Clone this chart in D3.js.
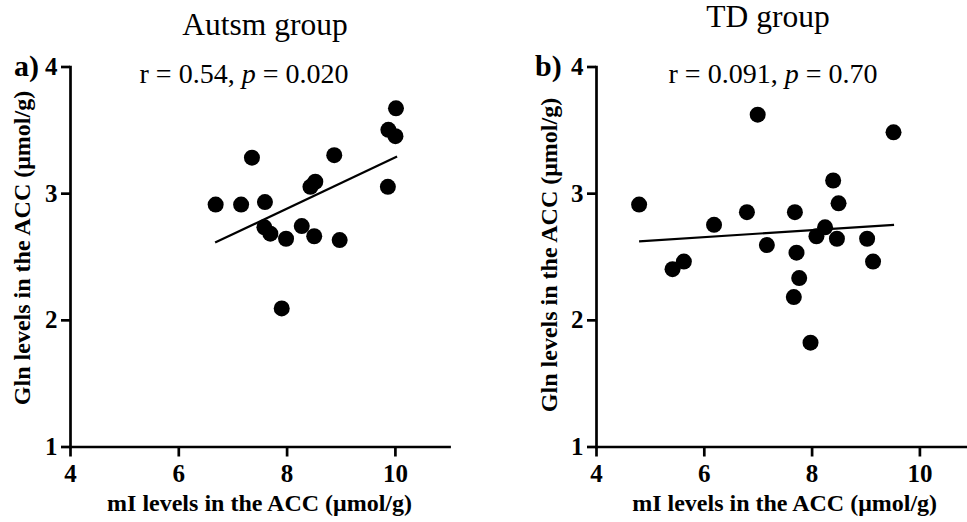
<!DOCTYPE html>
<html>
<head>
<meta charset="utf-8">
<script src="https://cdn.jsdelivr.net/npm/d3@7"></script>
<style>
  body { margin: 0; background: #fff; }
  svg text { font-family: "Liberation Serif", "Times New Roman", serif; fill: #000; }
</style>
</head>
<body>
<div id="chart"></div>
<script>
// Gln vs mI scatter, two groups

// ticks
var xTicks = [4, 6, 8, 10];
var yTicks = [1, 2, 3, 4];

// Autism group points (mI, Gln)
var autismX = [6.69, 7.16, 7.36, 7.60, 7.59, 7.70, 7.99, 7.91, 8.28, 8.44, 8.53, 8.51, 8.88, 8.98, 9.87, 9.88, 10.01, 10.02];
var autismY = [2.91, 2.91, 3.28, 2.93, 2.73, 2.68, 2.64, 2.09, 2.74, 3.05, 3.09, 2.66, 3.30, 2.63, 3.05, 3.50, 3.45, 3.67];
var autismFitX = [6.68, 10.04];
var autismFitY = [2.61, 3.29];

// TD group points
var tdX = [4.80, 5.42, 5.63, 6.19, 6.80, 7.00, 7.17, 7.69, 7.72, 7.77, 7.67, 7.98, 8.09, 8.25, 8.40, 8.50, 8.47, 9.03, 9.14, 9.52];
var tdY = [2.91, 2.40, 2.46, 2.75, 2.85, 3.62, 2.59, 2.85, 2.53, 2.33, 2.18, 1.82, 2.66, 2.73, 3.10, 2.92, 2.64, 2.64, 2.46, 3.48];
var tdFitX = [4.80, 9.53];
var tdFitY = [2.62, 2.75];

var svgWidth = 967;
var svgHeight = 522;

var svg = d3.select("#chart")
  .append("svg")
  .attr("width", svgWidth)
  .attr("height", svgHeight);

var panels = [
  {
    letter: "a)", title: "Autsm group", r: "0.54", p: "0.020",
    xs: autismX, ys: autismY, fx: autismFitX, fy: autismFitY,
    left: 70, unit: 54.15, titleX: 265, titleY: 35, statX: 244,
    letterX: 14, yLabelX: 30, yLabelY: 248
  },
  {
    letter: "b)", title: "TD group", r: "0.091", p: "0.70",
    xs: tdX, ys: tdY, fx: tdFitX, fy: tdFitY,
    left: 596, unit: 53.9, titleX: 768, titleY: 27, statX: 773,
    letterX: 535, yLabelX: 557, yLabelY: 255
  }
];

var yScale = d3.scaleLinear()
  .domain([1, 4])
  .range([446.5, 66.5]);

panels.forEach(function(pn) {
  var xScale = d3.scaleLinear()
    .domain([4, 11])
    .range([pn.left, pn.left + 7 * pn.unit]);

  var g = svg.append("g");

  // axes
  var bottomAxis = d3.axisBottom(xScale).tickValues(xTicks).tickFormat(d3.format("d"))
    .tickSize(10).tickPadding(7.5).tickSizeOuter(0);
  var leftAxis = d3.axisLeft(yScale).tickValues(yTicks).tickFormat(d3.format("d"))
    .tickSize(9).tickPadding(3.5).tickSizeOuter(0);

  var xg = g.append("g")
    .attr("transform", `translate(0, ${yScale(1)})`)
    .call(bottomAxis);
  var yg = g.append("g")
    .attr("transform", `translate(${pn.left}, 0)`)
    .call(leftAxis);

  [xg, yg].forEach(function(a) {
    a.attr("font-family", null)
      .attr("font-size", 25)
      .attr("font-weight", "bold");
    a.select(".domain").attr("stroke", "#000").attr("stroke-width", 2.7).attr("stroke-linecap", "square");
    a.selectAll(".tick line").attr("stroke", "#000").attr("stroke-width", 2.7);
  });

  // regression line
  var fit = pn.fx.map(function(v, i) { return [v, pn.fy[i]]; });
  g.append("path")
    .datum(fit)
    .attr("fill", "none")
    .attr("stroke", "#000")
    .attr("stroke-width", 2.2)
    .attr("d", d3.line().x(d => xScale(d[0])).y(d => yScale(d[1])));

  // points
  var pts = pn.xs.map(function(v, i) { return { x: v, y: pn.ys[i] }; });
  g.selectAll("circle")
    .data(pts)
    .enter()
    .append("circle")
    .attr("cx", d => xScale(d.x))
    .attr("cy", d => yScale(d.y))
    .attr("r", 8)
    .attr("fill", "#000");

  // title
  g.append("text")
    .attr("x", pn.titleX)
    .attr("y", pn.titleY)
    .attr("text-anchor", "middle")
    .attr("font-size", 31.5)
    .text(pn.title);

  // stats
  var st = g.append("text")
    .attr("x", pn.statX)
    .attr("y", 83)
    .attr("text-anchor", "middle")
    .attr("font-size", 28);
  st.append("tspan").text("r = " + pn.r + ", ");
  st.append("tspan").attr("font-style", "italic").text("p");
  st.append("tspan").text(" = " + pn.p);

  // panel letter
  g.append("text")
    .attr("x", pn.letterX)
    .attr("y", 76)
    .attr("font-size", 30)
    .attr("font-weight", "bold")
    .text(pn.letter);

  // axis labels
  g.append("text")
    .attr("transform", `translate(${pn.yLabelX}, ${pn.yLabelY}) rotate(-90)`)
    .attr("text-anchor", "middle")
    .attr("font-size", 24)
    .attr("font-weight", "bold")
    .text("Gln levels in the ACC (μmol/g)");

  g.append("text")
    .attr("x", pn.left + 3.5 * pn.unit)
    .attr("y", 511)
    .attr("text-anchor", "middle")
    .attr("font-size", 24)
    .attr("font-weight", "bold")
    .text("mI levels in the ACC (μmol/g)");
});
</script>
</body>
</html>
